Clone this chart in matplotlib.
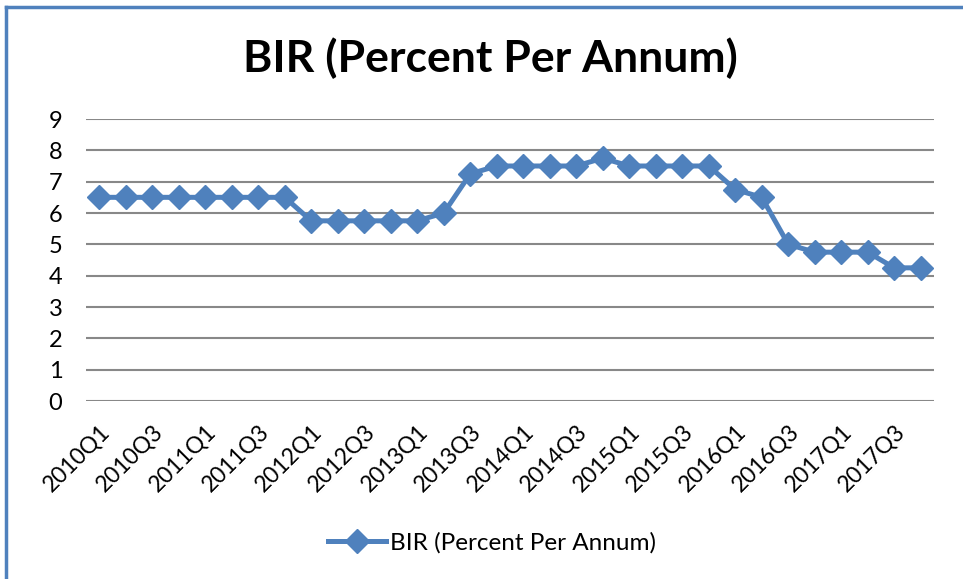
import matplotlib.pyplot as plt
from matplotlib.lines import Line2D

quarters = [f"{y}Q{q}" for y in range(2010, 2018) for q in range(1, 5)]
bir = [6.5, 6.5, 6.5, 6.5, 6.5, 6.5, 6.5, 6.5,
       5.75, 5.75, 5.75, 5.75, 5.75, 6.0, 7.25, 7.5,
       7.5, 7.5, 7.5, 7.75, 7.5, 7.5, 7.5, 7.5,
       6.75, 6.5, 5.0, 4.75, 4.75, 4.75, 4.25, 4.25]
yticks = list(range(0, 10))

blue = '#4F81BD'
plt.rcParams['font.family'] = ['Lato', 'DejaVu Sans']

fig = plt.figure(figsize=(9.63, 5.79), dpi=100)
ax = fig.add_axes([86 / 963, 1 - 401 / 579, 848 / 963, 282 / 579])

x = list(range(len(quarters)))
ax.plot(x, bir, '-', color=blue, linewidth=3.6, marker='D', markersize=12,
        label='BIR (Percent Per Annum)')

ax.set_xlim(-0.5, len(quarters) - 0.5)
ax.set_ylim(0, 9)
ax.set_yticks(yticks)
ax.set_yticklabels([str(v) for v in yticks], fontsize=17)
ax.set_xticks(x[::2])
ax.set_xticklabels(quarters[::2], fontsize=16.5, rotation=45, ha='right',
                   va='top', rotation_mode='anchor')
ax.tick_params(axis='both', length=0)
ax.tick_params(axis='y', pad=17)
ax.tick_params(axis='x', pad=14)
for s in ax.spines.values():
    s.set_visible(False)
ax.grid(True, axis='y', color='#888888', linewidth=1.5)
ax.set_axisbelow(True)

fig.text(490 / 963, 1 - 58 / 579, 'BIR (Percent Per Annum)', ha='center',
         va='center', fontsize=32, fontweight='bold')

handle = Line2D([], [], color=blue, linewidth=3.6, marker='D', markersize=12)
fig.legend([handle], ['BIR (Percent Per Annum)'], loc='center',
           bbox_to_anchor=(492 / 963, 1 - 543 / 579), frameon=False,
           fontsize=17.5, handlelength=2.4, handletextpad=0.15)

# chart frame (only left and top edges are visible in the crop)
fig.add_artist(Line2D([6 / 963, 6 / 963], [0, 1 - 7 / 579], color=blue,
                      linewidth=2.5, transform=fig.transFigure))
fig.add_artist(Line2D([6 / 963, 1], [1 - 7 / 579, 1 - 7 / 579], color=blue,
                      linewidth=2.5, transform=fig.transFigure))

fig.savefig('out.png', dpi=100)
